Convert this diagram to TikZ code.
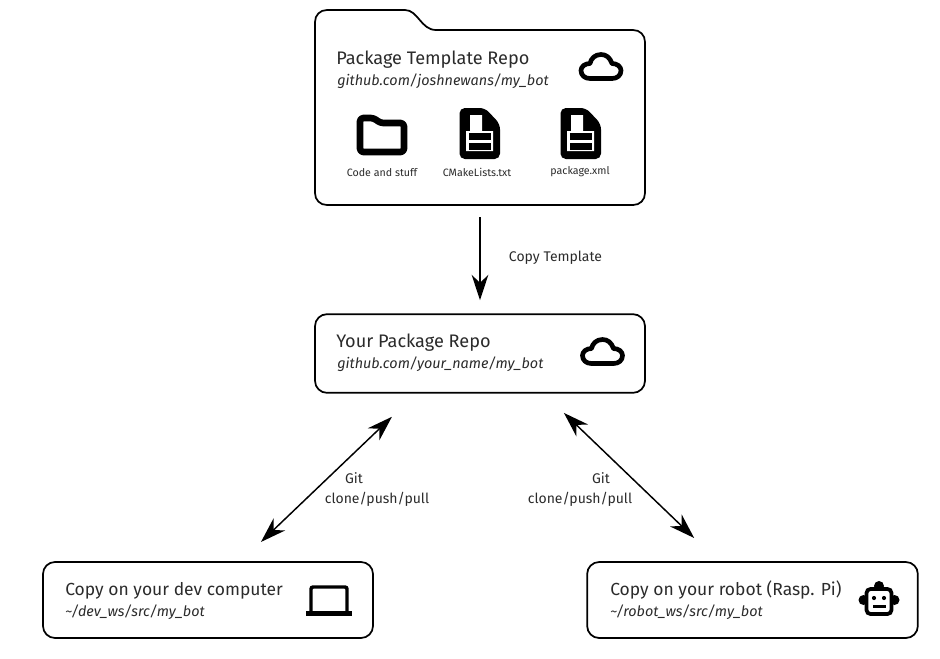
\documentclass[tikz,border=0pt]{standalone}
\usepackage{fontspec}
\setmainfont{Fira Sans}
\usetikzlibrary{arrows.meta}
\definecolor{inktext}{HTML}{2B2B2B}
\tikzset{
  repobox/.style={draw=black,line width=1.3pt,rounded corners=9pt,inner sep=0pt,outer sep=0pt,minimum width=247.5pt,minimum height=#1},
  repobox/.default=58pt,
  titletext/.style={anchor=base west,inner sep=0pt,text=inktext,font=\fontsize{#1}{15}\selectfont},
  titletext/.default=13.6,
  subtext/.style={anchor=base west,inner sep=0pt,text=inktext,font=\fontsize{10.8}{13}\selectfont\itshape},
  smalltext/.style={anchor=base,inner sep=0pt,text=inktext,font=\fontsize{8}{10}\selectfont},
  edgetext/.style={anchor=base,inner sep=0pt,text=inktext,font=\fontsize{10.5}{12}\selectfont},
  flow/.style={line width=1.1pt},
  cloudicon/.pic={
    \draw[line width=3.5pt,line join=round] (-11,12) -- (11,12) .. controls (16,12) and (20,9) .. (20,4)
      .. controls (20,0) and (16,-3) .. (11,-3) .. controls (9,-9) and (5,-12) .. (0,-12)
      .. controls (-6,-12) and (-10,-8) .. (-11,-3) .. controls (-16,-3) and (-20,0) .. (-20,4)
      .. controls (-20,9) and (-16,12) .. (-11,12) -- cycle;
  },
  foldericon/.pic={
    \draw[line width=5pt,rounded corners=2.5pt,line join=round] (-22,-17) -- (-8,-17) -- (-2,-12) -- (22,-12) -- (22,17) -- (-22,17) -- cycle;
  },
  docicon/.pic={
    \fill[rounded corners=4pt] (-20.5,-26) -- (5,-26) -- (20,-10) -- (20,25) -- (-20.5,25) -- cycle;
    \fill[white] (-10,-19) -- (2,-19) -- (2,-3) -- (13,-3) -- (13,17) -- (-14,17) -- (-14,-3) -- (-10,-3) -- cycle;
    \fill (-11,-1) rectangle (11,6);
    \fill (-11,9) rectangle (11,16);
  },
  laptopicon/.pic={
    \draw[line width=2.6pt,rounded corners=1.5pt] (-18,11) -- (-18,-13) -- (18,-13) -- (18,11);
    \fill (-23,11) rectangle (23,16);
  },
  roboticon/.pic={
    \fill (-15.5,0) circle (5);
    \fill (15.5,0) circle (5);
    \fill (0,-14) circle (5);
    \draw[fill=white,line width=2.8pt,rounded corners=3pt] (-12.5,-11) rectangle (12.5,14);
    \fill (-5,-2) circle (2.1);
    \fill (5,-2) circle (2.1);
    \fill (-6.5,5) rectangle (6.5,7.5);
  },
}
\begin{document}
\begin{tikzpicture}[x=0.75pt,y=-0.75pt,>={Stealth[length=19pt,width=12.5pt,inset=6pt]}]
\useasboundingbox (0,0) rectangle (940,658);
% Boxes
\node[minimum width=247.5pt,minimum height=131pt,inner sep=0pt,outer sep=0pt] (template) at (480,117.5) {};
\node[repobox=59pt] (yourrepo) at (480,353.5) {};
\node[repobox=57pt] (devcopy) at (208,600) {};
\node[repobox=57pt,minimum width=248pt] (robotcopy) at (752.5,600) {};
% Folder outline
\draw[line width=1.3pt,line join=round] (327,10) -- (405,10) .. controls (418,10) and (421,30) .. (436,30) -- (633,30)
  .. controls (640,30) and (645,35) .. (645,42) -- (645,193) .. controls (645,200) and (640,205) .. (633,205) -- (327,205)
  .. controls (320,205) and (315,200) .. (315,193) -- (315,22) .. controls (315,15) and (320,10) .. (327,10) -- cycle;
% Labels
\node[titletext] (templatetitle) at (336,64) {Package Template Repo};
\node[subtext] (templatesub) at (337,85) {github.com/joshnewans/my\_bot};
\node[smalltext] (codelabel) at (382,176) {Code and stuff};
\node[smalltext] (cmakelabel) at (477,176) {CMakeLists.txt};
\node[smalltext] (packagelabel) at (580,174) {package.xml};
\node[titletext] (yourtitle) at (336,347) {Your Package Repo};
\node[subtext] (yoursub) at (337,368) {github.com/your\_name/my\_bot};
\node[titletext=13.1] (devtitle) at (65,595) {Copy on your dev computer};
\node[subtext] (devsub) at (65,616) {\textasciitilde/dev\_ws/src/my\_bot};
\node[titletext=13.1] (robottitle) at (610,595) {Copy on your robot (Rasp. Pi)};
\node[subtext] (robotsub) at (610,616) {\textasciitilde/robot\_ws/src/my\_bot};
% Icons
\pic at (601,66.5) {cloudicon};
\pic at (602.5,351.5) {cloudicon};
\pic at (382,135) {foldericon};
\pic at (480,134) {docicon};
\pic at (581,134) {docicon};
\pic at (329,600) {laptopicon};
\pic at (879,600) {roboticon};
% Connectors
\draw[<-,flow,shorten <=10.5pt,shorten >=9pt] (yourrepo.north) -- (template.south);
\draw[<->,flow,shorten <=26pt,shorten >=21.75pt] ([xshift=-47.25pt]yourrepo.south) -- ([xshift=24pt]devcopy.north);
\draw[<->,flow,shorten <=21.75pt,shorten >=26pt] ([xshift=47.25pt]yourrepo.south) -- ([xshift=-25pt]robotcopy.north);
% Arrow labels
\node[edgetext] (copylabel) at (555.5,261) {Copy Template};
\node[edgetext] (gitleft) at (354,483) {Git};
\node[edgetext] (cmdleft) at (377,503) {clone/push/pull};
\node[edgetext] (gitright) at (601,483) {Git};
\node[edgetext] (cmdright) at (580,503) {clone/push/pull};
\end{tikzpicture}
\end{document}
